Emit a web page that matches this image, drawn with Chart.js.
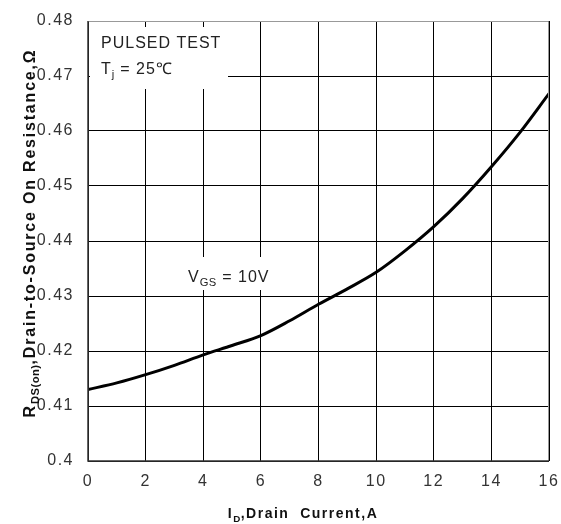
<!DOCTYPE html>
<html>
<head>
<meta charset="utf-8">
<script src="https://cdn.jsdelivr.net/npm/chart.js@4/dist/chart.umd.min.js"></script>
<style>
  html, body { margin: 0; padding: 0; background: #fff; }
  #wrap { width: 561px; height: 524px; }
</style>
</head>
<body>
<div id="wrap"><canvas id="chart"></canvas></div>
<script>
// drain current (A) and on-resistance (ohm)
const currents = [0, 1, 2, 3, 4, 5, 6, 7, 8, 9, 10, 11, 12, 13, 14, 15, 16]
const resistance = [0.413, 0.4142, 0.4157, 0.4174, 0.4193, 0.421, 0.4228, 0.4255, 0.4285,
  0.4313, 0.4343, 0.4382, 0.4426, 0.4477, 0.4535, 0.4598, 0.4668]
const xTicks = [0, 2, 4, 6, 8, 10, 12, 14, 16]
const yTicks = [0.4, 0.41, 0.42, 0.43, 0.44, 0.45, 0.46, 0.47, 0.48]

const FONT = "'Liberation Sans', Arial, sans-serif"

// draws text pieces, some as subscripts (subs get tighter spacing)
function drawRich(ctx, parts, x, y, size, bold, align) {
  const sp = ctx.letterSpacing
  const setFont = (p) => {
    ctx.font = (bold ? "bold " : "") + (p.sub ? size * 0.7 : size) + "px " + FONT
    ctx.letterSpacing = p.sub ? "0.5px" : sp
  }
  const w = parts.reduce((s, p) => {
    setFont(p)
    return s + ctx.measureText(p.t).width
  }, 0)
  let cx = align === "center" ? x - w / 2 : x
  parts.forEach((p) => {
    setFont(p)
    ctx.fillText(p.t, cx, p.sub ? y + size * 0.25 : y)
    cx += ctx.measureText(p.t).width
  })
  ctx.letterSpacing = sp
}

const decor = {
  id: "decor",
  beforeDraw(chart) {
    chart.ctx.letterSpacing = "1.5px"
  },
  beforeDatasetsDraw(chart) {
    const ctx = chart.ctx
    ctx.save()
    ctx.fillStyle = "#fff"
    ctx.fillRect(90, 27, 138, 62)
    ctx.fillRect(182, 257, 118, 33)
    ctx.fillStyle = "#222"
    ctx.textBaseline = "alphabetic"
    ctx.letterSpacing = "1px"
    drawRich(ctx, [{ t: "PULSED TEST" }], 101, 48, 16, false)
    drawRich(ctx, [{ t: "T" }, { t: "j", sub: true }, { t: " = 25℃" }], 101, 74, 16, false)
    drawRich(ctx, [{ t: "V" }, { t: "GS", sub: true }, { t: " = 10V" }], 188, 282, 16, false)
    ctx.restore()
  },
  afterDraw(chart) {
    const ctx = chart.ctx
    const a = chart.chartArea
    ctx.save()
    ctx.letterSpacing = "0px"
    // frame: grey top/right, dark left/bottom
    ctx.strokeStyle = "#999"
    ctx.lineWidth = 1
    ctx.beginPath()
    ctx.moveTo(a.left, a.top + 0.5)
    ctx.lineTo(a.right - 0.5, a.top + 0.5)
    ctx.lineTo(a.right - 0.5, a.bottom)
    ctx.stroke()
    ctx.strokeStyle = "#333"
    ctx.lineWidth = 1.5
    ctx.beginPath()
    ctx.moveTo(a.left, a.top)
    ctx.lineTo(a.left, a.bottom)
    ctx.lineTo(a.right, a.bottom)
    ctx.stroke()
    // axis titles
    ctx.fillStyle = "#111"
    ctx.textBaseline = "alphabetic"
    ctx.letterSpacing = "1.5px"
    drawRich(ctx, [{ t: "I" }, { t: "D", sub: true }, { t: ",Drain  Current,A" }], 303, 518, 14, true, "center")
    ctx.letterSpacing = "1.8px"
    ctx.translate(35, 233)
    ctx.rotate(-Math.PI / 2)
    drawRich(ctx, [{ t: "R" }, { t: "DS(on)", sub: true }, { t: ",Drain-to-Source On Resistance,Ω" }], 0, 0, 16, true, "center")
    ctx.restore()
  },
}

const data = {
  labels: currents,
  datasets: [
    {
      data: currents.map((c, i) => ({ x: c, y: resistance[i] })),
      borderColor: "#000",
      borderWidth: 3,
      pointRadius: 0,
      cubicInterpolationMode: "monotone",
      fill: false,
    },
  ],
}

const config = {
  type: "line",
  data: data,
  options: {
    responsive: false,
    animation: false,
    devicePixelRatio: 1,
    layout: { padding: { top: 21, right: 12, left: 0, bottom: 0 } },
    plugins: { legend: false, tooltip: false },
    scales: {
      x: {
        type: "linear",
        min: 0,
        max: 16,
        afterBuildTicks: (s) => { s.ticks = xTicks.map((v) => ({ value: v })) },
        afterFit: (s) => {
          s.height = 63
          s.paddingLeft = 0
          s.paddingRight = 0
        },
        border: { display: false },
        grid: { color: "#000", lineWidth: 1, borderDash: [2, 1], drawTicks: false },
        ticks: { padding: 11, color: "#333", font: { family: FONT, size: 16 } },
      },
      y: {
        min: 0.4,
        max: 0.48,
        afterBuildTicks: (s) => { s.ticks = yTicks.map((v) => ({ value: v })) },
        afterFit: (s) => {
          s.width = 88
          s.paddingTop = 0
          s.paddingBottom = 0
        },
        border: { display: false },
        grid: { color: "#000", lineWidth: 1, borderDash: [2, 1], drawTicks: false },
        ticks: {
          padding: 14,
          color: "#333",
          font: { family: FONT, size: 16 },
          callback: (v) => String(Math.round(v * 100) / 100),
        },
      },
    },
  },
  plugins: [decor],
}

const cv = document.getElementById("chart")
cv.width = 561
cv.height = 524
var chart = new Chart(cv, config)
</script>
</body>
</html>
